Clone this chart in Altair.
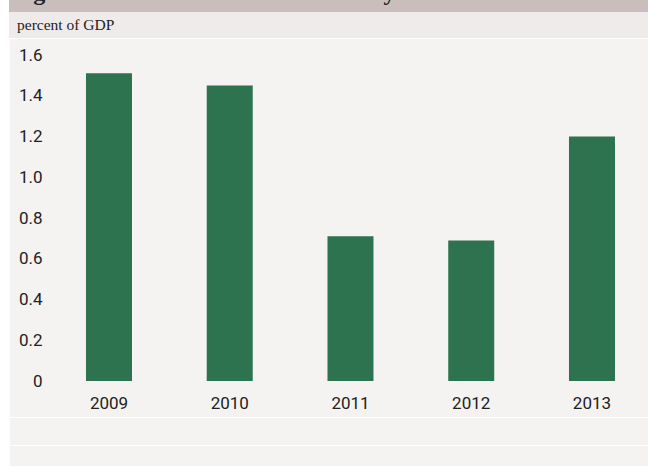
import altair as alt
import pandas as pd

years = ["2009", "2010", "2011", "2012", "2013"]
values = [1.51, 1.45, 0.71, 0.69, 1.20]
y_ticks = [0, 0.2, 0.4, 0.6, 0.8, 1.0, 1.2, 1.4, 1.6]
unit_label = "percent of GDP"
title_text = "Figure 1. Fiscal Stimulus in Germany"

BG = "#f4f3f1"
BAR = "#2e7350"
PL, PT = 48, 55
W, H = 600, 326
SANS = "Roboto, sans-serif"

df = pd.DataFrame({"year": years, "value": values})
one = pd.DataFrame({"a": [0]})

def deco(x0, x1, y0, y1, color):
    return alt.Chart(one).mark_rect(color=color).encode(
        x=alt.value(x0 - PL), x2=alt.value(x1 - PL),
        y=alt.value(y0 - PT), y2=alt.value(y1 - PT))

bars = alt.Chart(df).mark_bar(color=BAR).encode(
    x=alt.X("year:N", sort=years, title=None,
            scale=alt.Scale(paddingInner=0.619, paddingOuter=0.294, align=0.535),
            axis=alt.Axis(labelAngle=0, domain=False, ticks=False, labelPadding=14,
                          labelFont=SANS, labelFontSize=17, labelFontWeight=400,
                          labelColor="#222222")),
    y=alt.Y("value:Q", title=None,
            scale=alt.Scale(domain=[0, 1.6], nice=False),
            axis=alt.Axis(values=y_ticks, grid=False, domain=False, ticks=False,
                          labelPadding=6, labelFont=SANS, labelFontWeight=400,
                          labelFontSize=17, labelColor="#222222",
                          labelExpr="datum.value == 0 ? '0' : format(datum.value, '.1f')")),
)

layers = [
    deco(0, 10, 0, 466, "#ffffff"),
    deco(9, 648, 0, 12, "#c9bebc"),
    deco(9, 648, 12, 38, "#efebea"),
    deco(9, 648, 38, 39, "#ffffff"),
    deco(9, 648, 417, 418, "#ffffff"),
    deco(9, 648, 445, 446, "#ffffff"),
    alt.Chart(one).mark_text(text=title_text, align="left", baseline="alphabetic",
                             font="Liberation Serif", fontSize=24, fontWeight="bold",
                             color="#222222").encode(
        x=alt.value(12 - PL), y=alt.value(0 - PT)),
    alt.Chart(one).mark_text(text=unit_label, align="left", baseline="alphabetic",
                             font="Liberation Serif", fontSize=15.5, color="#222222").encode(
        x=alt.value(17 - PL), y=alt.value(30 - PT)),
    bars,
]

chart = alt.layer(*layers).properties(
    width=W, height=H,
    autosize=alt.AutoSizeParams(type="none"),
    padding={"left": PL, "top": PT, "right": 0, "bottom": 466 - PT - H},
    background=BG,
).configure_view(stroke=None)

chart.save("out.html", embed_options={"renderer": "svg", "actions": False})
